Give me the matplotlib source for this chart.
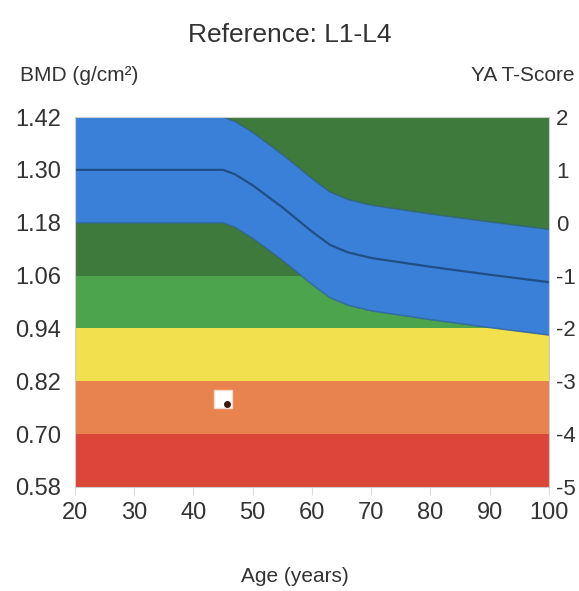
import matplotlib
matplotlib.use("Agg")
import matplotlib.pyplot as plt
import numpy as np

plt.rcParams['font.family'] = ['Liberation Sans', 'DejaVu Sans']

# reference curve (mean BMD by age) and band width (1 SD)
ages = np.array([20, 45, 47, 50, 55, 60, 63, 66, 70, 80, 90, 100])
mean_bmd = np.array([1.30, 1.30, 1.29, 1.265, 1.215, 1.16, 1.13, 1.113, 1.10, 1.08, 1.062, 1.045])
sd = 0.12

# horizontal T-score bands (BMD limits) and colours
band_low = [0.58, 0.70, 0.82, 0.94, 1.06]
band_high = [0.70, 0.82, 0.94, 1.06, 1.42]
band_colors = ["#dc4638", "#e8824f", "#f2e04c", "#4ca54c", "#3d7a3b"]

# patient
patient_age = [45]
patient_bmd = [0.78]

bmd_ticks = [0.58, 0.70, 0.82, 0.94, 1.06, 1.18, 1.30, 1.42]
t_ticks = [-5, -4, -3, -2, -1, 0, 1, 2]
age_ticks = [20, 30, 40, 50, 60, 70, 80, 90, 100]

fig = plt.figure(figsize=(5.79, 5.91), dpi=100)
ax = fig.add_axes([0.1295, 0.176, 0.8185, 0.626])

for lo, hi, c in zip(band_low, band_high, band_colors):
    ax.fill_between([20, 100], lo, hi, color=c, lw=0)

ax.fill_between(ages, mean_bmd - sd, mean_bmd + sd, color="#3a80d8", lw=0)
ax.plot(ages, mean_bmd + sd, color="#2f5f8a", lw=1.2, alpha=0.6)
ax.plot(ages, mean_bmd - sd, color="#2f5f8a", lw=1.2, alpha=0.6)
ax.plot(ages, mean_bmd, color="#1f4f86", lw=1.6)

ax.scatter(patient_age, patient_bmd, marker="s", s=150, color="white", edgecolors="#f3d9c8", zorder=5)
ax.scatter([a + 0.6 for a in patient_age], [b - 0.012 for b in patient_bmd], s=16, color="#3a1a10", zorder=6)

ax.set_xlim(20, 100)
ax.set_ylim(0.58, 1.42)
ax.set_xticks(age_ticks)
ax.set_yticks(bmd_ticks)
ax.set_yticklabels(["%.2f" % v for v in bmd_ticks])
ax.tick_params(axis="both", labelsize=17, colors="#333333", length=0, pad=10)
ax.tick_params(axis="x", length=6, color="#dddddd", pad=5)
for s in ax.spines.values():
    s.set_color("#cccccc")
    s.set_linewidth(0.8)

ax2 = ax.twinx()
ax2.set_ylim(-5, 2)
ax2.set_yticks(t_ticks)
ax2.set_yticklabels([str(t) for t in t_ticks])
ax2.tick_params(axis="y", labelsize=16, colors="#333333", length=0, pad=5)
for s in ax2.spines.values():
    s.set_visible(False)

fig.text(0.50, 0.941, "Reference: L1-L4", ha="center", va="center", fontsize=19, color="#333333")
fig.text(0.035, 0.873, "BMD (g/cm²)", ha="left", va="center", fontsize=15, color="#333333")
fig.text(0.993, 0.873, "YA T-Score", ha="right", va="center", fontsize=15, color="#333333")
fig.text(0.51, 0.024, "Age (years)", ha="center", va="center", fontsize=15, color="#333333")

fig.savefig("out.png", dpi=100)
